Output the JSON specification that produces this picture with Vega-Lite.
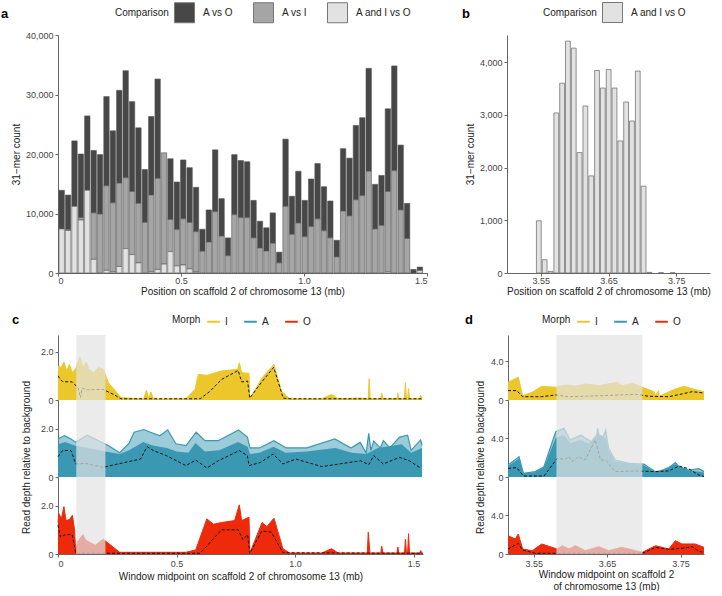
{
  "$schema": "https://vega.github.io/schema/vega-lite/v6.json",
  "padding": {"left": 1, "top": 2, "right": 1, "bottom": 0},
  "config": {
    "font": "Liberation Sans",
    "view": {"stroke": null},
    "axis": {"grid": false, "domainColor": "#666", "tickColor": "#666", "tickSize": 3, "labelFontSize": 9, "labelColor": "#444", "labelPadding": 2, "labelOverlap": false, "titleFontSize": 10, "titleFontWeight": "normal", "titleColor": "#222"},
    "legend": {"labelFontSize": 10, "titleFontSize": 10, "titleFontWeight": "normal", "labelColor": "#222", "titleColor": "#222"},
    "title": {"fontSize": 13, "fontWeight": "bold", "anchor": "start", "color": "#000", "frame": "group"}
  },
  "datasets": {
    "a": [
      {"s": 0, "e": 0.026, "A vs O": 6500, "A vs I": 0, "A and I vs O": 7400},
      {"s": 0.026, "e": 0.052, "A vs O": 5800, "A vs I": 150, "A and I vs O": 7150},
      {"s": 0.052, "e": 0.078, "A vs O": 11000, "A vs I": 0, "A and I vs O": 11200},
      {"s": 0.078, "e": 0.104, "A vs O": 10700, "A vs I": 400, "A and I vs O": 8900},
      {"s": 0.104, "e": 0.13, "A vs O": 12500, "A vs I": 0, "A and I vs O": 13900},
      {"s": 0.13, "e": 0.156, "A vs O": 10500, "A vs I": 7800, "A and I vs O": 2300},
      {"s": 0.156, "e": 0.182, "A vs O": 10000, "A vs I": 9900, "A and I vs O": 0},
      {"s": 0.182, "e": 0.208, "A vs O": 15000, "A vs I": 14200, "A and I vs O": 450},
      {"s": 0.208, "e": 0.234, "A vs O": 12100, "A vs I": 11600, "A and I vs O": 200},
      {"s": 0.234, "e": 0.26, "A vs O": 15600, "A vs I": 14000, "A and I vs O": 1100},
      {"s": 0.26, "e": 0.286, "A vs O": 18000, "A vs I": 11900, "A and I vs O": 4100},
      {"s": 0.286, "e": 0.312, "A vs O": 15100, "A vs I": 10600, "A and I vs O": 3100},
      {"s": 0.312, "e": 0.338, "A vs O": 12700, "A vs I": 10000, "A and I vs O": 1700},
      {"s": 0.338, "e": 0.364, "A vs O": 8900, "A vs I": 8500, "A and I vs O": 0},
      {"s": 0.364, "e": 0.39, "A vs O": 13200, "A vs I": 12900, "A and I vs O": 200},
      {"s": 0.39, "e": 0.416, "A vs O": 16700, "A vs I": 15300, "A and I vs O": 600},
      {"s": 0.416, "e": 0.442, "A vs O": 0, "A vs I": 18700, "A and I vs O": 1500},
      {"s": 0.442, "e": 0.468, "A vs O": 10200, "A vs I": 5400, "A and I vs O": 3600},
      {"s": 0.468, "e": 0.494, "A vs O": 8000, "A vs I": 6100, "A and I vs O": 1200},
      {"s": 0.494, "e": 0.52, "A vs O": 9900, "A vs I": 7750, "A and I vs O": 1350},
      {"s": 0.52, "e": 0.546, "A vs O": 9200, "A vs I": 7800, "A and I vs O": 700},
      {"s": 0.546, "e": 0.572, "A vs O": 7450, "A vs I": 6800, "A and I vs O": 150},
      {"s": 0.572, "e": 0.598, "A vs O": 3700, "A vs I": 3650, "A and I vs O": 0},
      {"s": 0.598, "e": 0.624, "A vs O": 5400, "A vs I": 5200, "A and I vs O": 0},
      {"s": 0.624, "e": 0.65, "A vs O": 10400, "A vs I": 10300, "A and I vs O": 0},
      {"s": 0.65, "e": 0.676, "A vs O": 6300, "A vs I": 6200, "A and I vs O": 0},
      {"s": 0.676, "e": 0.702, "A vs O": 3000, "A vs I": 2900, "A and I vs O": 0},
      {"s": 0.702, "e": 0.728, "A vs O": 10100, "A vs I": 9800, "A and I vs O": 0},
      {"s": 0.728, "e": 0.754, "A vs O": 9600, "A vs I": 9300, "A and I vs O": 0},
      {"s": 0.754, "e": 0.78, "A vs O": 9400, "A vs I": 9300, "A and I vs O": 0},
      {"s": 0.78, "e": 0.806, "A vs O": 6300, "A vs I": 5900, "A and I vs O": 0},
      {"s": 0.806, "e": 0.832, "A vs O": 4500, "A vs I": 4200, "A and I vs O": 0},
      {"s": 0.832, "e": 0.858, "A vs O": 3900, "A vs I": 3700, "A and I vs O": 0},
      {"s": 0.858, "e": 0.884, "A vs O": 5100, "A vs I": 5000, "A and I vs O": 0},
      {"s": 0.884, "e": 0.91, "A vs O": 1800, "A vs I": 1700, "A and I vs O": 0},
      {"s": 0.91, "e": 0.936, "A vs O": 11300, "A vs I": 11200, "A and I vs O": 0},
      {"s": 0.936, "e": 0.962, "A vs O": 6400, "A vs I": 6500, "A and I vs O": 0},
      {"s": 0.962, "e": 0.988, "A vs O": 8700, "A vs I": 8400, "A and I vs O": 0},
      {"s": 0.988, "e": 1.014, "A vs O": 6100, "A vs I": 6100, "A and I vs O": 0},
      {"s": 1.014, "e": 1.04, "A vs O": 8000, "A vs I": 7800, "A and I vs O": 0},
      {"s": 1.04, "e": 1.066, "A vs O": 9300, "A vs I": 9100, "A and I vs O": 0},
      {"s": 1.066, "e": 1.092, "A vs O": 7400, "A vs I": 7100, "A and I vs O": 0},
      {"s": 1.092, "e": 1.118, "A vs O": 6200, "A vs I": 5900, "A and I vs O": 0},
      {"s": 1.118, "e": 1.144, "A vs O": 2800, "A vs I": 2700, "A and I vs O": 0},
      {"s": 1.144, "e": 1.17, "A vs O": 10500, "A vs I": 10400, "A and I vs O": 0},
      {"s": 1.17, "e": 1.196, "A vs O": 9700, "A vs I": 9600, "A and I vs O": 0},
      {"s": 1.196, "e": 1.222, "A vs O": 12500, "A vs I": 12300, "A and I vs O": 0},
      {"s": 1.222, "e": 1.248, "A vs O": 13100, "A vs I": 13000, "A and I vs O": 0},
      {"s": 1.248, "e": 1.274, "A vs O": 17300, "A vs I": 17100, "A and I vs O": 0},
      {"s": 1.274, "e": 1.3, "A vs O": 7500, "A vs I": 7400, "A and I vs O": 0},
      {"s": 1.3, "e": 1.326, "A vs O": 8400, "A vs I": 8000, "A and I vs O": 0},
      {"s": 1.326, "e": 1.352, "A vs O": 13900, "A vs I": 13500, "A and I vs O": 200},
      {"s": 1.352, "e": 1.378, "A vs O": 17600, "A vs I": 17200, "A and I vs O": 0},
      {"s": 1.378, "e": 1.404, "A vs O": 10900, "A vs I": 10600, "A and I vs O": 0},
      {"s": 1.404, "e": 1.43, "A vs O": 5900, "A vs I": 5800, "A and I vs O": 0},
      {"s": 1.43, "e": 1.456, "A vs O": 600, "A vs I": 0, "A and I vs O": 0},
      {"s": 1.456, "e": 1.482, "A vs O": 500, "A vs I": 100, "A and I vs O": 400}
    ],
    "b": [
      {"s": 3.542, "e": 3.5506, "n": 990},
      {"s": 3.5506, "e": 3.5592, "n": 252},
      {"s": 3.5592, "e": 3.5678, "n": 30},
      {"s": 3.5678, "e": 3.5764, "n": 3035},
      {"s": 3.5764, "e": 3.585, "n": 3600},
      {"s": 3.585, "e": 3.5936, "n": 4397},
      {"s": 3.5936, "e": 3.6022, "n": 4265},
      {"s": 3.6022, "e": 3.6108, "n": 2284},
      {"s": 3.6108, "e": 3.6194, "n": 3167},
      {"s": 3.6194, "e": 3.628, "n": 1842},
      {"s": 3.628, "e": 3.6366, "n": 3842},
      {"s": 3.6366, "e": 3.6452, "n": 3508},
      {"s": 3.6452, "e": 3.6538, "n": 3861},
      {"s": 3.6538, "e": 3.6624, "n": 3508},
      {"s": 3.6624, "e": 3.671, "n": 2505},
      {"s": 3.671, "e": 3.6796, "n": 3243},
      {"s": 3.6796, "e": 3.6882, "n": 2883},
      {"s": 3.6882, "e": 3.6968, "n": 3830},
      {"s": 3.6968, "e": 3.7054, "n": 1647},
      {"s": 3.7054, "e": 3.714, "n": 12},
      {"s": 3.7226, "e": 3.7312, "n": 6},
      {"s": 3.7398, "e": 3.7484, "n": 4}
    ],
    "hl": [
      {"p": "c", "a": 0.077, "b": 0.2},
      {"p": "d", "a": 3.581, "b": 3.698}
    ],
    "cI": [
      {"k": "max", "x": 0, "y": 1.4}, {"k": "max", "x": 0.014, "y": 1.35}, {"k": "max", "x": 0.025, "y": 1.57},
      {"k": "max", "x": 0.037, "y": 1.2}, {"k": "max", "x": 0.048, "y": 1.47}, {"k": "max", "x": 0.061, "y": 1.13},
      {"k": "max", "x": 0.075, "y": 1.3}, {"k": "max", "x": 0.092, "y": 1.79}, {"k": "max", "x": 0.105, "y": 1.34},
      {"k": "max", "x": 0.119, "y": 1.57}, {"k": "max", "x": 0.13, "y": 1.27}, {"k": "max", "x": 0.15, "y": 1.13},
      {"k": "max", "x": 0.171, "y": 1.34}, {"k": "max", "x": 0.191, "y": 1.27}, {"k": "max", "x": 0.212, "y": 0.72},
      {"k": "max", "x": 0.266, "y": 0.1}, {"k": "max", "x": 0.362, "y": 0.04}, {"k": "max", "x": 0.373, "y": 0.41},
      {"k": "max", "x": 0.383, "y": 0.05}, {"k": "max", "x": 0.392, "y": 0.33}, {"k": "max", "x": 0.403, "y": 0.04},
      {"k": "max", "x": 0.54, "y": 0.05}, {"k": "max", "x": 0.578, "y": 0.44}, {"k": "max", "x": 0.592, "y": 1.06},
      {"k": "max", "x": 0.628, "y": 1.02}, {"k": "max", "x": 0.69, "y": 1.2}, {"k": "max", "x": 0.758, "y": 1.27},
      {"k": "max", "x": 0.765, "y": 1.54}, {"k": "max", "x": 0.775, "y": 1.13}, {"k": "max", "x": 0.806, "y": 1.1},
      {"k": "max", "x": 0.809, "y": 0.05}, {"k": "max", "x": 0.861, "y": 0.92}, {"k": "max", "x": 0.911, "y": 1.47},
      {"k": "max", "x": 0.943, "y": 0.37}, {"k": "max", "x": 0.977, "y": 0.05}, {"k": "max", "x": 1.113, "y": 0.04},
      {"k": "max", "x": 1.154, "y": 0.23}, {"k": "max", "x": 1.182, "y": 0.05}, {"k": "max", "x": 1.277, "y": 0.08},
      {"k": "max", "x": 1.309, "y": 0.05}, {"k": "max", "x": 1.313, "y": 0.88}, {"k": "max", "x": 1.317, "y": 0.05},
      {"k": "max", "x": 1.362, "y": 0.05}, {"k": "max", "x": 1.366, "y": 0.28}, {"k": "max", "x": 1.371, "y": 0.05},
      {"k": "max", "x": 1.43, "y": 0.05}, {"k": "max", "x": 1.434, "y": 0.28}, {"k": "max", "x": 1.438, "y": 0.05},
      {"k": "max", "x": 1.462, "y": 0.05}, {"k": "max", "x": 1.466, "y": 0.72}, {"k": "max", "x": 1.47, "y": 0.05},
      {"k": "max", "x": 1.475, "y": 0.05}, {"k": "max", "x": 1.479, "y": 0.47}, {"k": "max", "x": 1.483, "y": 0.05},
      {"k": "max", "x": 1.526, "y": 0.05}, {"k": "max", "x": 1.53, "y": 0.21}, {"k": "max", "x": 1.536, "y": 0.05},
      {"k": "mean", "x": 0, "y": 1.0}, {"k": "mean", "x": 0.01, "y": 0.85}, {"k": "mean", "x": 0.02, "y": 0.76},
      {"k": "mean", "x": 0.06, "y": 0.75}, {"k": "mean", "x": 0.085, "y": 0.5}, {"k": "mean", "x": 0.095, "y": 0.1},
      {"k": "mean", "x": 0.102, "y": 0.5}, {"k": "mean", "x": 0.12, "y": 0.42}, {"k": "mean", "x": 0.19, "y": 0.44},
      {"k": "mean", "x": 0.24, "y": 0.2}, {"k": "mean", "x": 0.266, "y": 0.05}, {"k": "mean", "x": 0.6, "y": 0.05},
      {"k": "mean", "x": 0.64, "y": 0.35}, {"k": "mean", "x": 0.69, "y": 0.85}, {"k": "mean", "x": 0.76, "y": 1.22},
      {"k": "mean", "x": 0.775, "y": 0.75}, {"k": "mean", "x": 0.8, "y": 0.78}, {"k": "mean", "x": 0.809, "y": 0.08},
      {"k": "mean", "x": 0.86, "y": 0.75}, {"k": "mean", "x": 0.91, "y": 1.35}, {"k": "mean", "x": 0.95, "y": 0.08},
      {"k": "mean", "x": 0.98, "y": 0.05}, {"k": "mean", "x": 1.54, "y": 0.05}
    ],
    "cA": [
      {"k": "max", "x": 0, "y": 1.57}, {"k": "max", "x": 0.027, "y": 1.71}, {"k": "max", "x": 0.055, "y": 1.57},
      {"k": "max", "x": 0.075, "y": 1.43}, {"k": "max", "x": 0.123, "y": 1.73}, {"k": "max", "x": 0.171, "y": 1.5},
      {"k": "max", "x": 0.212, "y": 1.3}, {"k": "max", "x": 0.26, "y": 1.0}, {"k": "max", "x": 0.3, "y": 1.4},
      {"k": "max", "x": 0.321, "y": 1.85}, {"k": "max", "x": 0.362, "y": 1.96}, {"k": "max", "x": 0.39, "y": 1.85},
      {"k": "max", "x": 0.43, "y": 1.7}, {"k": "max", "x": 0.463, "y": 1.95}, {"k": "max", "x": 0.497, "y": 1.37},
      {"k": "max", "x": 0.54, "y": 1.3}, {"k": "max", "x": 0.583, "y": 1.85}, {"k": "max", "x": 0.62, "y": 1.5},
      {"k": "max", "x": 0.676, "y": 1.5}, {"k": "max", "x": 0.762, "y": 1.94}, {"k": "max", "x": 0.799, "y": 1.65},
      {"k": "max", "x": 0.81, "y": 1.2}, {"k": "max", "x": 0.85, "y": 1.2}, {"k": "max", "x": 0.911, "y": 1.5},
      {"k": "max", "x": 0.963, "y": 1.2}, {"k": "max", "x": 1.05, "y": 1.2}, {"k": "max", "x": 1.168, "y": 1.57},
      {"k": "max", "x": 1.236, "y": 1.2}, {"k": "max", "x": 1.275, "y": 1.43}, {"k": "max", "x": 1.3, "y": 1.0},
      {"k": "max", "x": 1.311, "y": 1.8}, {"k": "max", "x": 1.32, "y": 1.1}, {"k": "max", "x": 1.332, "y": 1.48},
      {"k": "max", "x": 1.36, "y": 1.2}, {"k": "max", "x": 1.373, "y": 1.5}, {"k": "max", "x": 1.4, "y": 1.2},
      {"k": "max", "x": 1.441, "y": 1.65}, {"k": "max", "x": 1.475, "y": 1.73}, {"k": "max", "x": 1.49, "y": 1.1},
      {"k": "max", "x": 1.53, "y": 1.53}, {"k": "max", "x": 1.536, "y": 1.3},
      {"k": "core", "x": 0, "y": 1.35}, {"k": "core", "x": 0.03, "y": 1.45}, {"k": "core", "x": 0.07, "y": 1.3},
      {"k": "core", "x": 0.1, "y": 1.25}, {"k": "core", "x": 0.2, "y": 1.05}, {"k": "core", "x": 0.26, "y": 0.95},
      {"k": "core", "x": 0.3, "y": 1.1}, {"k": "core", "x": 0.36, "y": 1.45}, {"k": "core", "x": 0.4, "y": 1.3},
      {"k": "core", "x": 0.46, "y": 1.2}, {"k": "core", "x": 0.5, "y": 1.05}, {"k": "core", "x": 0.55, "y": 1.0},
      {"k": "core", "x": 0.58, "y": 1.4}, {"k": "core", "x": 0.62, "y": 1.05}, {"k": "core", "x": 0.68, "y": 1.1},
      {"k": "core", "x": 0.76, "y": 1.45}, {"k": "core", "x": 0.8, "y": 1.25}, {"k": "core", "x": 0.81, "y": 0.95},
      {"k": "core", "x": 0.85, "y": 1.0}, {"k": "core", "x": 0.91, "y": 1.25}, {"k": "core", "x": 0.96, "y": 1.0},
      {"k": "core", "x": 1.05, "y": 1.05}, {"k": "core", "x": 1.17, "y": 1.2}, {"k": "core", "x": 1.24, "y": 1.0},
      {"k": "core", "x": 1.3, "y": 0.95}, {"k": "core", "x": 1.35, "y": 1.2}, {"k": "core", "x": 1.45, "y": 1.35},
      {"k": "core", "x": 1.49, "y": 1.0}, {"k": "core", "x": 1.536, "y": 1.2},
      {"k": "mean", "x": 0, "y": 0.84}, {"k": "mean", "x": 0.02, "y": 1.1}, {"k": "mean", "x": 0.055, "y": 1.09},
      {"k": "mean", "x": 0.075, "y": 0.54}, {"k": "mean", "x": 0.116, "y": 0.56}, {"k": "mean", "x": 0.191, "y": 0.4},
      {"k": "mean", "x": 0.253, "y": 0.54}, {"k": "mean", "x": 0.348, "y": 0.74}, {"k": "mean", "x": 0.376, "y": 1.25},
      {"k": "mean", "x": 0.403, "y": 1.09}, {"k": "mean", "x": 0.458, "y": 0.88}, {"k": "mean", "x": 0.54, "y": 0.47},
      {"k": "mean", "x": 0.581, "y": 0.7}, {"k": "mean", "x": 0.628, "y": 0.37}, {"k": "mean", "x": 0.676, "y": 0.67},
      {"k": "mean", "x": 0.765, "y": 1.09}, {"k": "mean", "x": 0.799, "y": 0.88}, {"k": "mean", "x": 0.806, "y": 0.47},
      {"k": "mean", "x": 0.854, "y": 0.6}, {"k": "mean", "x": 0.908, "y": 0.95}, {"k": "mean", "x": 0.949, "y": 0.54},
      {"k": "mean", "x": 1.004, "y": 0.74}, {"k": "mean", "x": 1.113, "y": 0.43}, {"k": "mean", "x": 1.277, "y": 0.67},
      {"k": "mean", "x": 1.311, "y": 0.51}, {"k": "mean", "x": 1.332, "y": 0.88}, {"k": "mean", "x": 1.373, "y": 0.54},
      {"k": "mean", "x": 1.441, "y": 0.81}, {"k": "mean", "x": 1.482, "y": 0.67}, {"k": "mean", "x": 1.53, "y": 0.37}
    ],
    "cO": [
      {"k": "max", "x": 0, "y": 1.3}, {"k": "max", "x": 0.004, "y": 1.67}, {"k": "max", "x": 0.014, "y": 1.45},
      {"k": "max", "x": 0.025, "y": 1.96}, {"k": "max", "x": 0.034, "y": 1.38}, {"k": "max", "x": 0.048, "y": 1.42},
      {"k": "max", "x": 0.061, "y": 1.6}, {"k": "max", "x": 0.07, "y": 0.99}, {"k": "max", "x": 0.075, "y": 0.05},
      {"k": "max", "x": 0.082, "y": 0.5}, {"k": "max", "x": 0.105, "y": 0.8}, {"k": "max", "x": 0.116, "y": 0.58},
      {"k": "max", "x": 0.137, "y": 0.46}, {"k": "max", "x": 0.157, "y": 0.36}, {"k": "max", "x": 0.191, "y": 0.61},
      {"k": "max", "x": 0.26, "y": 0.07}, {"k": "max", "x": 0.54, "y": 0.07}, {"k": "max", "x": 0.581, "y": 0.17},
      {"k": "max", "x": 0.628, "y": 1.45}, {"k": "max", "x": 0.656, "y": 1.23}, {"k": "max", "x": 0.69, "y": 1.3},
      {"k": "max", "x": 0.745, "y": 1.38}, {"k": "max", "x": 0.765, "y": 2.03}, {"k": "max", "x": 0.775, "y": 1.38},
      {"k": "max", "x": 0.806, "y": 1.52}, {"k": "max", "x": 0.809, "y": 0.03}, {"k": "max", "x": 0.861, "y": 1.3},
      {"k": "max", "x": 0.881, "y": 1.13}, {"k": "max", "x": 0.911, "y": 1.48}, {"k": "max", "x": 0.949, "y": 0.22},
      {"k": "max", "x": 0.977, "y": 0.04}, {"k": "max", "x": 1.113, "y": 0.04}, {"k": "max", "x": 1.154, "y": 0.22},
      {"k": "max", "x": 1.182, "y": 0.04}, {"k": "max", "x": 1.305, "y": 0.04}, {"k": "max", "x": 1.309, "y": 0.9},
      {"k": "max", "x": 1.316, "y": 0.04}, {"k": "max", "x": 1.362, "y": 0.04}, {"k": "max", "x": 1.366, "y": 0.32},
      {"k": "max", "x": 1.371, "y": 0.04}, {"k": "max", "x": 1.43, "y": 0.04}, {"k": "max", "x": 1.434, "y": 0.29},
      {"k": "max", "x": 1.438, "y": 0.04}, {"k": "max", "x": 1.462, "y": 0.04}, {"k": "max", "x": 1.466, "y": 0.61},
      {"k": "max", "x": 1.47, "y": 0.04}, {"k": "max", "x": 1.475, "y": 0.04}, {"k": "max", "x": 1.479, "y": 0.84},
      {"k": "max", "x": 1.483, "y": 0.04}, {"k": "max", "x": 1.526, "y": 0.04}, {"k": "max", "x": 1.53, "y": 0.14},
      {"k": "max", "x": 1.536, "y": 0.04},
      {"k": "mean", "x": 0, "y": 1.2}, {"k": "mean", "x": 0.01, "y": 0.7}, {"k": "mean", "x": 0.03, "y": 0.8},
      {"k": "mean", "x": 0.06, "y": 0.8}, {"k": "mean", "x": 0.075, "y": 0.03}, {"k": "mean", "x": 0.6, "y": 0.03},
      {"k": "mean", "x": 0.69, "y": 1.0}, {"k": "mean", "x": 0.76, "y": 1.0}, {"k": "mean", "x": 0.78, "y": 0.6},
      {"k": "mean", "x": 0.8, "y": 0.8}, {"k": "mean", "x": 0.809, "y": 0.03}, {"k": "mean", "x": 0.86, "y": 0.95},
      {"k": "mean", "x": 0.9, "y": 0.9}, {"k": "mean", "x": 0.95, "y": 0.05}, {"k": "mean", "x": 1.54, "y": 0.03}
    ],
    "dI": [
      {"k": "max", "x": 3.515, "y": 1.83}, {"k": "max", "x": 3.529, "y": 2.34}, {"k": "max", "x": 3.535, "y": 0.45},
      {"k": "max", "x": 3.548, "y": 0.8}, {"k": "max", "x": 3.561, "y": 1.41}, {"k": "max", "x": 3.58, "y": 1.31},
      {"k": "max", "x": 3.59, "y": 1.5}, {"k": "max", "x": 3.598, "y": 1.55}, {"k": "max", "x": 3.607, "y": 1.41},
      {"k": "max", "x": 3.62, "y": 1.65}, {"k": "max", "x": 3.639, "y": 1.48}, {"k": "max", "x": 3.664, "y": 1.83},
      {"k": "max", "x": 3.67, "y": 1.48}, {"k": "max", "x": 3.684, "y": 1.72}, {"k": "max", "x": 3.698, "y": 1.31},
      {"k": "max", "x": 3.714, "y": 0.86}, {"k": "max", "x": 3.716, "y": 0.45}, {"k": "max", "x": 3.72, "y": 0.97},
      {"k": "max", "x": 3.721, "y": 0.38}, {"k": "max", "x": 3.743, "y": 1.14}, {"k": "max", "x": 3.755, "y": 1.41},
      {"k": "max", "x": 3.77, "y": 1.07}, {"k": "max", "x": 3.782, "y": 0.86},
      {"k": "mean", "x": 3.515, "y": 0.97}, {"k": "mean", "x": 3.527, "y": 0.97}, {"k": "mean", "x": 3.535, "y": 0.34},
      {"k": "mean", "x": 3.561, "y": 0.34}, {"k": "mean", "x": 3.58, "y": 0.52}, {"k": "mean", "x": 3.598, "y": 0.34},
      {"k": "mean", "x": 3.643, "y": 0.45}, {"k": "mean", "x": 3.689, "y": 0.59}, {"k": "mean", "x": 3.707, "y": 0.38},
      {"k": "mean", "x": 3.734, "y": 0.34}, {"k": "mean", "x": 3.752, "y": 0.62}, {"k": "mean", "x": 3.766, "y": 0.86},
      {"k": "mean", "x": 3.782, "y": 0.72}
    ],
    "dA": [
      {"k": "max", "x": 3.515, "y": 1.23}, {"k": "max", "x": 3.527, "y": 1.91}, {"k": "max", "x": 3.53, "y": 2.08},
      {"k": "max", "x": 3.536, "y": 0.38}, {"k": "max", "x": 3.552, "y": 0.55}, {"k": "max", "x": 3.564, "y": 1.06},
      {"k": "max", "x": 3.58, "y": 4.65}, {"k": "max", "x": 3.591, "y": 4.99}, {"k": "max", "x": 3.6, "y": 3.8},
      {"k": "max", "x": 3.614, "y": 4.3}, {"k": "max", "x": 3.625, "y": 3.8}, {"k": "max", "x": 3.634, "y": 3.28},
      {"k": "max", "x": 3.637, "y": 4.99}, {"k": "max", "x": 3.641, "y": 3.45}, {"k": "max", "x": 3.648, "y": 4.82},
      {"k": "max", "x": 3.652, "y": 2.94}, {"k": "max", "x": 3.661, "y": 1.74}, {"k": "max", "x": 3.68, "y": 1.4},
      {"k": "max", "x": 3.7, "y": 1.33}, {"k": "max", "x": 3.716, "y": 0.55}, {"k": "max", "x": 3.73, "y": 0.72},
      {"k": "max", "x": 3.743, "y": 1.47}, {"k": "max", "x": 3.748, "y": 1.06}, {"k": "max", "x": 3.761, "y": 0.72},
      {"k": "max", "x": 3.775, "y": 0.85}, {"k": "max", "x": 3.782, "y": 0.55},
      {"k": "core", "x": 3.515, "y": 1.1}, {"k": "core", "x": 3.53, "y": 1.9}, {"k": "core", "x": 3.536, "y": 0.35},
      {"k": "core", "x": 3.552, "y": 0.5}, {"k": "core", "x": 3.564, "y": 1.0}, {"k": "core", "x": 3.58, "y": 4.0},
      {"k": "core", "x": 3.591, "y": 4.3}, {"k": "core", "x": 3.6, "y": 3.5}, {"k": "core", "x": 3.614, "y": 3.8},
      {"k": "core", "x": 3.625, "y": 3.4}, {"k": "core", "x": 3.637, "y": 4.5}, {"k": "core", "x": 3.648, "y": 4.0},
      {"k": "core", "x": 3.652, "y": 2.7}, {"k": "core", "x": 3.661, "y": 1.6}, {"k": "core", "x": 3.7, "y": 1.2},
      {"k": "core", "x": 3.716, "y": 0.5}, {"k": "core", "x": 3.743, "y": 1.3}, {"k": "core", "x": 3.76, "y": 0.7},
      {"k": "core", "x": 3.782, "y": 0.45},
      {"k": "mean", "x": 3.515, "y": 0.89}, {"k": "mean", "x": 3.527, "y": 0.96}, {"k": "mean", "x": 3.536, "y": 0.1},
      {"k": "mean", "x": 3.564, "y": 0.1}, {"k": "mean", "x": 3.582, "y": 1.91}, {"k": "mean", "x": 3.593, "y": 1.81},
      {"k": "mean", "x": 3.598, "y": 2.08}, {"k": "mean", "x": 3.602, "y": 1.57}, {"k": "mean", "x": 3.611, "y": 2.08},
      {"k": "mean", "x": 3.62, "y": 1.74}, {"k": "mean", "x": 3.634, "y": 3.8}, {"k": "mean", "x": 3.641, "y": 1.74},
      {"k": "mean", "x": 3.648, "y": 1.74}, {"k": "mean", "x": 3.661, "y": 0.55}, {"k": "mean", "x": 3.689, "y": 0.62},
      {"k": "mean", "x": 3.716, "y": 0.55}, {"k": "mean", "x": 3.734, "y": 0.62}, {"k": "mean", "x": 3.748, "y": 1.13},
      {"k": "mean", "x": 3.761, "y": 0.85}, {"k": "mean", "x": 3.775, "y": 0.2}, {"k": "mean", "x": 3.782, "y": 0.05}
    ],
    "dO": [
      {"k": "max", "x": 3.515, "y": 1.88}, {"k": "max", "x": 3.525, "y": 1.54}, {"k": "max", "x": 3.529, "y": 2.05},
      {"k": "max", "x": 3.535, "y": 0.51}, {"k": "max", "x": 3.548, "y": 0.34}, {"k": "max", "x": 3.561, "y": 1.03},
      {"k": "max", "x": 3.582, "y": 0.51}, {"k": "max", "x": 3.589, "y": 0.85}, {"k": "max", "x": 3.598, "y": 0.51},
      {"k": "max", "x": 3.607, "y": 0.85}, {"k": "max", "x": 3.62, "y": 0.34}, {"k": "max", "x": 3.639, "y": 0.75},
      {"k": "max", "x": 3.652, "y": 0.34}, {"k": "max", "x": 3.67, "y": 0.68}, {"k": "max", "x": 3.689, "y": 0.34},
      {"k": "max", "x": 3.698, "y": 0.17}, {"k": "max", "x": 3.716, "y": 0.85}, {"k": "max", "x": 3.734, "y": 0.51},
      {"k": "max", "x": 3.743, "y": 1.37}, {"k": "max", "x": 3.752, "y": 1.03}, {"k": "max", "x": 3.77, "y": 1.03},
      {"k": "max", "x": 3.782, "y": 0.68},
      {"k": "mean", "x": 3.515, "y": 0.51}, {"k": "mean", "x": 3.529, "y": 1.09}, {"k": "mean", "x": 3.535, "y": 0.41},
      {"k": "mean", "x": 3.552, "y": 0.07}, {"k": "mean", "x": 3.698, "y": 0.07}, {"k": "mean", "x": 3.716, "y": 0.68},
      {"k": "mean", "x": 3.734, "y": 0.48}, {"k": "mean", "x": 3.752, "y": 0.58}, {"k": "mean", "x": 3.766, "y": 0.75},
      {"k": "mean", "x": 3.775, "y": 0.27}, {"k": "mean", "x": 3.782, "y": 0.17}
    ]
  },
  "concat": [
    {
      "concat": [
        {
          "title": {"text": "a", "offset": -19, "dx": -57},
          "width": 369,
          "height": 238,
          "data": {"name": "a"},
          "transform": [
            {"fold": ["A vs O", "A vs I", "A and I vs O"], "as": ["cmp", "n"]},
            {"filter": "datum.n > 0"}
          ],
          "mark": {"type": "bar", "stroke": "#555", "strokeWidth": 0.6},
          "encoding": {
            "x": {"field": "s", "type": "quantitative", "bin": {"binned": true}, "scale": {"domain": [0, 1.5], "nice": false, "zero": false},
                  "axis": {"values": [0, 0.5, 1, 1.5], "labelExpr": "datum.value == 0 ? '0' : format(datum.value, '.1f')", "labelPadding": 0, "titlePadding": 1, "title": "Position on scaffold 2 of chromosome 13 (mb)"}},
            "x2": {"field": "e"},
            "y": {"field": "n", "type": "quantitative", "stack": "zero", "scale": {"domain": [0, 40000], "nice": false},
                  "axis": {"values": [0, 10000, 20000, 30000, 40000], "format": ",.0f", "title": "31−mer count"}},
            "color": {"field": "cmp", "type": "nominal",
                      "scale": {"domain": ["A vs O", "A vs I", "A and I vs O"], "range": ["#474747", "#a5a5a5", "#e2e2e2"]},
                      "legend": {"title": "Comparison", "orient": "none", "legendX": 57, "legendY": -33, "direction": "horizontal", "titleOrient": "left", "symbolType": "square", "symbolSize": 400, "symbolStrokeColor": "#777", "symbolStrokeWidth": 1, "labelOffset": 8, "columnPadding": 17}},
            "order": {"field": "cmp", "sort": "ascending"}
          }
        },
        {
          "title": {"text": "b", "offset": -19, "dx": -45},
          "width": 203,
          "height": 238,
          "data": {"name": "b"},
          "mark": {"type": "bar", "stroke": "#666", "strokeWidth": 0.7},
          "encoding": {
            "x": {"field": "s", "type": "quantitative", "bin": {"binned": true}, "scale": {"domain": [3.5, 3.8], "nice": false, "zero": false},
                  "axis": {"values": [3.55, 3.65, 3.75], "format": ".2f", "labelPadding": 0, "titlePadding": 1, "title": "Position on scaffold 2 of chromosome 13 (mb)"}},
            "x2": {"field": "e"},
            "y": {"field": "n", "type": "quantitative", "scale": {"domain": [0, 4514], "nice": false},
                  "axis": {"values": [0, 1000, 2000, 3000, 4000], "format": ",.0f", "title": "31−mer count"}},
            "color": {"datum": "A and I vs O", "type": "nominal",
                      "scale": {"domain": ["A and I vs O"], "range": ["#e2e2e2"]},
                      "legend": {"title": "Comparison", "orient": "none", "legendX": 36, "legendY": -33, "direction": "horizontal", "titleOrient": "left", "symbolType": "square", "symbolSize": 400, "symbolStrokeColor": "#777", "symbolStrokeWidth": 1, "labelOffset": 8}}
          }
        }
      ],
      "columns": 2,
      "spacing": 34,
      "align": "none",
      "resolve": {"scale": {"color": "independent"}, "legend": {"color": "independent"}}
    },
    {
      "hconcat": [
        {
          "vconcat": [
            {
              "title": {"text": "c", "offset": -13, "dx": -46},
              "width": 365,
              "height": 65,
              "data": {"name": "cI"},
              "layer": [
                {"transform": [{"filter": "datum.k == 'max'"}], "mark": {"type": "area", "color": "#ebc72b"},
                 "encoding": {"x": {"field": "x", "type": "quantitative", "scale": {"domain": [0, 1.54], "nice": false, "zero": false}, "axis": null},
                              "y": {"field": "y", "type": "quantitative", "scale": {"domain": [0, 2.69], "nice": false}, "axis": {"values": [0, 0.5, 1, 1.5, 2], "labelExpr": "datum.value == 0 ? '0' : format(datum.value, '.1f')", "title": null}}}},
                {"transform": [{"filter": "datum.k == 'max'"}], "mark": {"type": "line", "strokeWidth": 1},
                 "encoding": {"x": {"field": "x", "type": "quantitative"}, "y": {"field": "y", "type": "quantitative"},
                              "stroke": {"datum": "I", "type": "nominal", "scale": {"domain": ["I", "A", "O"], "range": ["#ebc72b", "#3a98b3", "#ee2a0a"]},
                                         "legend": {"title": "Morph", "orient": "none", "legendX": 114, "legendY": -21, "direction": "horizontal", "titleOrient": "left", "symbolType": "stroke", "symbolSize": 160, "symbolStrokeWidth": 2, "labelOffset": 4, "columnPadding": 12}}}},
                {"transform": [{"filter": "datum.k == 'mean'"}], "mark": {"type": "line", "color": "#111", "strokeWidth": 1, "strokeDash": [3, 2]},
                 "encoding": {"x": {"field": "x", "type": "quantitative"}, "y": {"field": "y", "type": "quantitative"}}},
                {"data": {"name": "hl"}, "transform": [{"filter": "datum.p == 'c'"}], "mark": {"type": "rect", "color": "#e2e2e2", "opacity": 0.7},
                 "encoding": {"x": {"field": "a", "type": "quantitative"}, "x2": {"field": "b"}}}
              ]
            },
            {
              "width": 365,
              "height": 77,
              "data": {"name": "cA"},
              "layer": [
                {"transform": [{"filter": "datum.k == 'max'"}], "mark": {"type": "area", "color": "#3a98b3", "opacity": 0.5},
                 "encoding": {"x": {"field": "x", "type": "quantitative", "scale": {"domain": [0, 1.54], "nice": false, "zero": false}, "axis": null},
                              "y": {"field": "y", "type": "quantitative", "scale": {"domain": [0, 3.18], "nice": false}, "axis": {"values": [0, 0.5, 1, 1.5, 2], "labelExpr": "datum.value == 0 ? '0' : format(datum.value, '.1f')", "title": "Read depth relative to background", "titleX": -27, "titleY": 57}}}},
                {"transform": [{"filter": "datum.k == 'core'"}], "mark": {"type": "area", "color": "#3a98b3"},
                 "encoding": {"x": {"field": "x", "type": "quantitative"}, "y": {"field": "y", "type": "quantitative"}}},
                {"transform": [{"filter": "datum.k == 'max'"}], "mark": {"type": "line", "color": "#3a98b3", "strokeWidth": 1.2},
                 "encoding": {"x": {"field": "x", "type": "quantitative"}, "y": {"field": "y", "type": "quantitative"}}},
                {"transform": [{"filter": "datum.k == 'mean'"}], "mark": {"type": "line", "color": "#111", "strokeWidth": 1, "strokeDash": [3, 2]},
                 "encoding": {"x": {"field": "x", "type": "quantitative"}, "y": {"field": "y", "type": "quantitative"}}},
                {"data": {"name": "hl"}, "transform": [{"filter": "datum.p == 'c'"}], "mark": {"type": "rect", "color": "#e2e2e2", "opacity": 0.7},
                 "encoding": {"x": {"field": "a", "type": "quantitative"}, "x2": {"field": "b"}}}
              ]
            },
            {
              "width": 365,
              "height": 77,
              "data": {"name": "cO"},
              "layer": [
                {"transform": [{"filter": "datum.k == 'max'"}], "mark": {"type": "area", "color": "#ee2a0a"},
                 "encoding": {"x": {"field": "x", "type": "quantitative", "scale": {"domain": [0, 1.54], "nice": false, "zero": false},
                                    "axis": {"values": [0, 0.5, 1, 1.5], "labelExpr": "datum.value == 0 ? '0' : format(datum.value, '.1f')", "titlePadding": 3, "title": "Window midpoint on scaffold 2 of chromosome 13 (mb)"}},
                              "y": {"field": "y", "type": "quantitative", "scale": {"domain": [0, 3.18], "nice": false}, "axis": {"values": [0, 0.5, 1, 1.5, 2], "labelExpr": "datum.value == 0 ? '0' : format(datum.value, '.1f')", "title": null}}}},
                {"transform": [{"filter": "datum.k == 'max'"}], "mark": {"type": "line", "color": "#ee2a0a", "strokeWidth": 1},
                 "encoding": {"x": {"field": "x", "type": "quantitative"}, "y": {"field": "y", "type": "quantitative"}}},
                {"transform": [{"filter": "datum.k == 'mean'"}], "mark": {"type": "line", "color": "#111", "strokeWidth": 1, "strokeDash": [3, 2]},
                 "encoding": {"x": {"field": "x", "type": "quantitative"}, "y": {"field": "y", "type": "quantitative"}}},
                {"data": {"name": "hl"}, "transform": [{"filter": "datum.p == 'c'"}], "mark": {"type": "rect", "color": "#e2e2e2", "opacity": 0.7},
                 "encoding": {"x": {"field": "a", "type": "quantitative"}, "x2": {"field": "b"}}}
              ]
            }
          ],
          "spacing": 0,
          "bounds": "flush",
          "resolve": {"scale": {"stroke": "independent"}, "legend": {"stroke": "independent"}}
        },
        {
          "vconcat": [
            {
              "title": {"text": "d", "offset": -13, "dx": -43},
              "width": 196,
              "height": 65,
              "data": {"name": "dI"},
              "layer": [
                {"transform": [{"filter": "datum.k == 'max'"}], "mark": {"type": "area", "color": "#ebc72b"},
                 "encoding": {"x": {"field": "x", "type": "quantitative", "scale": {"domain": [3.515, 3.782], "nice": false, "zero": false}, "axis": null},
                              "y": {"field": "y", "type": "quantitative", "scale": {"domain": [0, 6.7], "nice": false}, "axis": {"values": [0, 2, 4], "labelExpr": "datum.value == 0 ? '0' : format(datum.value, '.1f')", "title": null}}}},
                {"transform": [{"filter": "datum.k == 'max'"}], "mark": {"type": "line", "strokeWidth": 1},
                 "encoding": {"x": {"field": "x", "type": "quantitative"}, "y": {"field": "y", "type": "quantitative"},
                              "stroke": {"datum": "I", "type": "nominal", "scale": {"domain": ["I", "A", "O"], "range": ["#ebc72b", "#3a98b3", "#ee2a0a"]},
                                         "legend": {"title": "Morph", "orient": "none", "legendX": 34, "legendY": -21, "direction": "horizontal", "titleOrient": "left", "symbolType": "stroke", "symbolSize": 160, "symbolStrokeWidth": 2, "labelOffset": 4, "columnPadding": 12}}}},
                {"transform": [{"filter": "datum.k == 'mean'"}], "mark": {"type": "line", "color": "#111", "strokeWidth": 1, "strokeDash": [3, 2]},
                 "encoding": {"x": {"field": "x", "type": "quantitative"}, "y": {"field": "y", "type": "quantitative"}}},
                {"data": {"name": "hl"}, "transform": [{"filter": "datum.p == 'd'"}], "mark": {"type": "rect", "color": "#e2e2e2", "opacity": 0.7},
                 "encoding": {"x": {"field": "a", "type": "quantitative"}, "x2": {"field": "b"}}}
              ]
            },
            {
              "width": 196,
              "height": 77,
              "data": {"name": "dA"},
              "layer": [
                {"transform": [{"filter": "datum.k == 'max'"}], "mark": {"type": "area", "color": "#3a98b3", "opacity": 0.55},
                 "encoding": {"x": {"field": "x", "type": "quantitative", "scale": {"domain": [3.515, 3.782], "nice": false, "zero": false}, "axis": null},
                              "y": {"field": "y", "type": "quantitative", "scale": {"domain": [0, 7.9], "nice": false}, "axis": {"values": [0, 2, 4], "labelExpr": "datum.value == 0 ? '0' : format(datum.value, '.1f')", "title": "Read depth relative to background", "titleX": -23, "titleY": 57}}}},
                {"transform": [{"filter": "datum.k == 'core'"}], "mark": {"type": "area", "color": "#3a98b3"},
                 "encoding": {"x": {"field": "x", "type": "quantitative"}, "y": {"field": "y", "type": "quantitative"}}},
                {"transform": [{"filter": "datum.k == 'max'"}], "mark": {"type": "line", "color": "#3a98b3", "strokeWidth": 1.2},
                 "encoding": {"x": {"field": "x", "type": "quantitative"}, "y": {"field": "y", "type": "quantitative"}}},
                {"transform": [{"filter": "datum.k == 'mean'"}], "mark": {"type": "line", "color": "#111", "strokeWidth": 1, "strokeDash": [3, 2]},
                 "encoding": {"x": {"field": "x", "type": "quantitative"}, "y": {"field": "y", "type": "quantitative"}}},
                {"data": {"name": "hl"}, "transform": [{"filter": "datum.p == 'd'"}], "mark": {"type": "rect", "color": "#e2e2e2", "opacity": 0.7},
                 "encoding": {"x": {"field": "a", "type": "quantitative"}, "x2": {"field": "b"}}}
              ]
            },
            {
              "width": 196,
              "height": 77,
              "data": {"name": "dO"},
              "layer": [
                {"transform": [{"filter": "datum.k == 'max'"}], "mark": {"type": "area", "color": "#ee2a0a"},
                 "encoding": {"x": {"field": "x", "type": "quantitative", "scale": {"domain": [3.515, 3.782], "nice": false, "zero": false},
                                    "axis": {"values": [3.55, 3.65, 3.75], "format": ".2f", "titlePadding": 1, "title": ["Window midpoint on scaffold 2", "of chromosome 13 (mb)"]}},
                              "y": {"field": "y", "type": "quantitative", "scale": {"domain": [0, 7.9], "nice": false}, "axis": {"values": [0, 2, 4], "labelExpr": "datum.value == 0 ? '0' : format(datum.value, '.1f')", "title": null}}}},
                {"transform": [{"filter": "datum.k == 'max'"}], "mark": {"type": "line", "color": "#ee2a0a", "strokeWidth": 1},
                 "encoding": {"x": {"field": "x", "type": "quantitative"}, "y": {"field": "y", "type": "quantitative"}}},
                {"transform": [{"filter": "datum.k == 'mean'"}], "mark": {"type": "line", "color": "#111", "strokeWidth": 1, "strokeDash": [3, 2]},
                 "encoding": {"x": {"field": "x", "type": "quantitative"}, "y": {"field": "y", "type": "quantitative"}}},
                {"data": {"name": "hl"}, "transform": [{"filter": "datum.p == 'd'"}], "mark": {"type": "rect", "color": "#e2e2e2", "opacity": 0.7},
                 "encoding": {"x": {"field": "a", "type": "quantitative"}, "x2": {"field": "b"}}}
              ]
            }
          ],
          "spacing": 0,
          "bounds": "flush",
          "resolve": {"scale": {"stroke": "independent"}, "legend": {"stroke": "independent"}}
        }
      ],
      "spacing": 40,
      "resolve": {"scale": {"stroke": "independent"}, "legend": {"stroke": "independent"}}
    }
  ],
  "columns": 1,
  "spacing": 18,
  "align": "none",
  "resolve": {"scale": {"color": "independent", "stroke": "independent"}, "legend": {"color": "independent", "stroke": "independent"}}
}
